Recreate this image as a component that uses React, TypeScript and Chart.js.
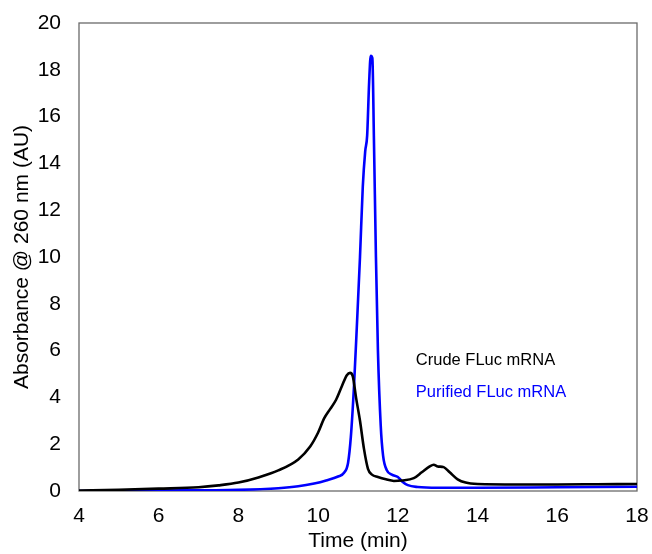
import React, { useEffect, useRef } from "react";
import { Chart, registerables } from "chart.js";

Chart.register(...registerables);

const crudeTime = [4, 5, 6, 7, 7.5, 8, 8.5, 9, 9.5, 9.8, 10.0, 10.15, 10.3, 10.45, 10.6, 10.72, 10.8, 10.87, 10.95, 11.05, 11.15, 11.25, 11.35, 11.5, 11.7, 11.9, 12.1, 12.4, 12.6, 12.8, 12.9, 13.0, 13.15, 13.3, 13.5, 13.7, 14, 15, 16, 17, 18];
const crudeAbs = [0.02, 0.05, 0.1, 0.16, 0.24, 0.36, 0.58, 0.88, 1.35, 1.9, 2.5, 3.1, 3.5, 3.9, 4.5, 4.95, 5.05, 4.9, 4.0, 3.0, 1.8, 0.95, 0.7, 0.6, 0.5, 0.43, 0.45, 0.55, 0.8, 1.05, 1.12, 1.05, 1.02, 0.8, 0.5, 0.36, 0.3, 0.28, 0.28, 0.29, 0.3];

const purifiedTime = [4, 6, 8, 9, 9.5, 9.9, 10.2, 10.5, 10.65, 10.75, 10.82, 10.9, 10.97, 11.05, 11.12, 11.18, 11.23, 11.28, 11.32, 11.36, 11.4, 11.45, 11.5, 11.57, 11.63, 11.72, 11.85, 12.0, 12.1, 12.25, 12.5, 13, 14, 16, 18];
const purifiedAbs = [0, 0.02, 0.05, 0.12, 0.2, 0.32, 0.45, 0.62, 0.78, 1.2, 2.3, 4.5, 7.0, 10, 13, 14.5, 15.2, 17.5, 18.6, 18.5, 15, 10, 6.0, 2.8, 1.5, 0.9, 0.7, 0.6, 0.42, 0.25, 0.17, 0.14, 0.14, 0.16, 0.18];

const seriesNames = ["Crude FLuc mRNA", "Purified FLuc mRNA"];
const seriesColors = ["#000000", "#0000ff"];
// label anchor positions in data units (time, absorbance)
const labelX = [12.45, 12.45];
const labelY = [5.6, 4.23];

const FONT = "'Liberation Sans', Arial, sans-serif";

const framePlugin = {
  id: "frame",
  beforeDatasetsDraw(chart: any) {
    const { ctx, chartArea } = chart;
    ctx.save();
    ctx.strokeStyle = "#6a6a6a";
    ctx.lineWidth = 1.3;
    ctx.strokeRect(chartArea.left, chartArea.top, chartArea.right - chartArea.left, chartArea.bottom - chartArea.top);
    ctx.restore();
  },
};

const labelPlugin = {
  id: "seriesLabels",
  afterDatasetsDraw(chart: any) {
    const { ctx, scales } = chart;
    ctx.save();
    ctx.font = `16.5px ${FONT}`;
    ctx.textAlign = "left";
    ctx.textBaseline = "middle";
    seriesNames.forEach((name, i) => {
      ctx.fillStyle = seriesColors[i];
      ctx.fillText(name, scales.x.getPixelForValue(labelX[i]), scales.y.getPixelForValue(labelY[i]));
    });
    ctx.restore();
  },
};

export default function App() {
  const ref = useRef<HTMLCanvasElement | null>(null);
  useEffect(() => {
    document.body.style.margin = "0";
    const canvas = ref.current!;
    const chart = new Chart(canvas, {
      type: "line",
      data: {
        datasets: [
          {
            label: seriesNames[0],
            data: crudeTime.map((t, i) => ({ x: t, y: crudeAbs[i] })),
            borderColor: seriesColors[0],
            borderWidth: 2.6,
            pointRadius: 0,
            cubicInterpolationMode: "monotone",
          },
          {
            label: seriesNames[1],
            data: purifiedTime.map((t, i) => ({ x: t, y: purifiedAbs[i] })),
            borderColor: seriesColors[1],
            borderWidth: 2.6,
            pointRadius: 0,
            cubicInterpolationMode: "monotone",
          },
        ],
      },
      options: {
        animation: false,
        responsive: false,
        layout: { padding: { top: 23, right: 15, left: 0, bottom: 0 } },
        plugins: { legend: { display: false }, tooltip: { enabled: false } },
        scales: {
          x: {
            type: "linear",
            min: 4,
            max: 18,
            grid: { display: false, drawTicks: false },
            border: { display: false },
            ticks: { stepSize: 2, padding: 13, color: "#000", font: { family: FONT, size: 21 } },
            title: { display: true, text: "Time (min)", color: "#000", font: { family: FONT, size: 21 }, padding: { top: 0, bottom: 0 } },
            afterFit(scale: any) {
              scale.height = 63;
              scale.paddingLeft = 0;
              scale.paddingRight = 0;
            },
          },
          y: {
            type: "linear",
            min: 0,
            max: 20,
            grid: { display: false, drawTicks: false },
            border: { display: false },
            ticks: { stepSize: 2, padding: 18, color: "#000", font: { family: FONT, size: 21 } },
            title: { display: true, text: "Absorbance @ 260 nm (AU)", color: "#000", font: { family: FONT, size: 21 }, padding: { top: 10, bottom: 0 } },
            afterFit(scale: any) {
              scale.width = 79;
              scale.paddingTop = 0;
              scale.paddingBottom = 0;
            },
          },
        },
      },
      plugins: [framePlugin, labelPlugin],
    } as any);
    return () => chart.destroy();
  }, []);
  return (
    <div style={{ width: 652, height: 554, background: "#fff" }}>
      <canvas ref={ref} width={652} height={554} style={{ display: "block" }} />
    </div>
  );
}
